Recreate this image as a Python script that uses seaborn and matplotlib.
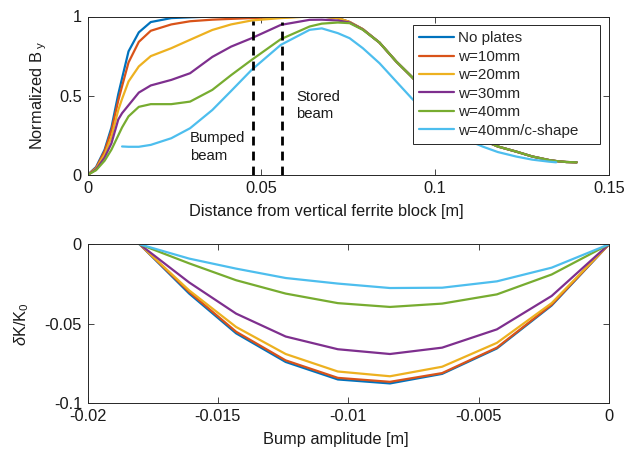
import numpy as np
import pandas as pd
import matplotlib
matplotlib.use("Agg")
import matplotlib.pyplot as plt
import seaborn as sns

# ---------------- data ----------------
series_names = ["No plates", "w=10mm", "w=20mm", "w=30mm", "w=40mm", "w=40mm/c-shape"]
colors = ["#0072BD", "#D95319", "#EDB120", "#7E2F8E", "#77AC30", "#4DBEEE"]

top_x = [0, 0.00246, 0.00492, 0.00689, 0.00885, 0.00994, 0.0118, 0.01476, 0.0182, 0.0241,
         0.0295, 0.0359, 0.0413, 0.0472, 0.0556, 0.0639, 0.0674, 0.0720, 0.0754, 0.0792,
         0.0840, 0.0888, 0.0932, 0.0984, 0.1033, 0.1082, 0.1137, 0.1180, 0.1234, 0.1279,
         0.1328, 0.1348, 0.1377, 0.1407]
nan = np.nan
tail = [0.835, 0.716, 0.621, 0.50, 0.39, 0.30, 0.22, 0.18, 0.147, 0.117, 0.094, 0.088, 0.082, 0.08]
by_none = [0, 0.05, 0.16, 0.30, 0.51, 0.61, 0.78, 0.90, 0.965, 0.99,
           0.995, 1.0, 1.0, 1.0, 1.0, 1.0, 1.0, 0.99, 0.965, 0.92] + tail
by_w10 = [0, 0.045, 0.15, 0.28, 0.47, 0.56, 0.71, 0.84, 0.91, 0.95,
          0.97, 0.98, 0.985, 0.99, 0.995, 1.0, 1.0, 0.99, 0.965, 0.92] + tail
by_w20 = [0, 0.04, 0.13, 0.24, 0.41, 0.48, 0.59, 0.685, 0.75, 0.80,
          0.853, 0.915, 0.95, 0.975, 0.99, 1.0, 1.0, 0.99, 0.965, 0.92] + tail
by_w30 = [0, 0.035, 0.11, 0.20, 0.35, 0.39, 0.44, 0.52, 0.565, 0.60,
          0.642, 0.745, 0.81, 0.863, 0.947, 0.979, 0.98, 0.975, 0.962, 0.918] + tail
by_w40 = [0, 0.03, 0.09, 0.16, 0.25, 0.30, 0.37, 0.43, 0.447, 0.447,
          0.463, 0.537, 0.63, 0.726, 0.857, 0.937, 0.955, 0.962, 0.958, 0.916] + tail
by_c = [nan, nan, nan, nan, nan, 0.18, 0.178, 0.178, 0.19, 0.232,
        0.295, 0.41, 0.53, 0.663, 0.821, 0.916, 0.925, 0.895, 0.863, 0.80,
        0.705, 0.59, 0.485, 0.37, 0.29, 0.23, 0.179, 0.145, 0.116, 0.097,
        0.084, 0.08, nan, nan]
top_series = [by_none, by_w10, by_w20, by_w30, by_w40, by_c]

bump_x = [-0.018, -0.0161, -0.0143, -0.0124, -0.0104, -0.0084, -0.0064, -0.0043, -0.0022, 0]
dk_none = [0, -0.031, -0.056, -0.074, -0.085, -0.0875, -0.0815, -0.0655, -0.0385, 0]
dk_w10 = [0, -0.030, -0.055, -0.073, -0.084, -0.0865, -0.081, -0.065, -0.038, 0]
dk_w20 = [0, -0.029, -0.052, -0.069, -0.080, -0.083, -0.077, -0.062, -0.037, 0]
dk_w30 = [0, -0.024, -0.0436, -0.058, -0.066, -0.069, -0.065, -0.0535, -0.0325, 0]
dk_w40 = [0, -0.012, -0.0226, -0.031, -0.037, -0.0394, -0.0373, -0.0315, -0.019, 0]
dk_c = [0, -0.009, -0.0153, -0.0212, -0.0247, -0.0275, -0.0273, -0.0233, -0.0147, 0]
bottom_series = [dk_none, dk_w10, dk_w20, dk_w30, dk_w40, dk_c]

bumped_x = 0.0477
stored_x = 0.0559

top_xticks = [0, 0.05, 0.1, 0.15]
top_xticklabels = ["0", "0.05", "0.1", "0.15"]
top_yticks = [0, 0.5, 1]
top_yticklabels = ["0", "0.5", "1"]
bot_xticks = [-0.02, -0.015, -0.01, -0.005, 0]
bot_xticklabels = ["-0.02", "-0.015", "-0.01", "-0.005", "0"]
bot_yticks = [-0.1, -0.05, 0]
bot_yticklabels = ["-0.1", "-0.05", "0"]

# ---------------- build frames ----------------
top_df = pd.concat([pd.DataFrame({"x": top_x, "y": ys, "case": name})
                    for name, ys in zip(series_names, top_series)], ignore_index=True)
bot_df = pd.concat([pd.DataFrame({"x": bump_x, "y": ys, "case": name})
                    for name, ys in zip(series_names, bottom_series)], ignore_index=True)

sns.set_theme(style="ticks")
plt.rcParams["font.family"] = ["Liberation Sans", "DejaVu Sans"]
plt.rcParams["mathtext.fontset"] = "custom"
plt.rcParams["mathtext.rm"] = "Liberation Sans"
plt.rcParams["mathtext.it"] = "Liberation Sans:italic"
FS_TICK = 11.8
FS_LABEL = 11.8
FS_LEG = 11
FS_TXT = 10.7
TXT = "#1a1a1a"

W, H = 636, 449
L, R = 87.5, 609
fig = plt.figure(figsize=(W/100, H/100), dpi=100)
ax1 = fig.add_axes([L/W, 1-175/H, (R-L)/W, 158.5/H])
ax2 = fig.add_axes([L/W, 1-403.3/H, (R-L)/W, 159/H])

palette = dict(zip(series_names, colors))
sns.lineplot(data=top_df, x="x", y="y", hue="case", hue_order=series_names,
             palette=palette, linewidth=1.6, ax=ax1, legend=False, sort=False,
             estimator=None)
sns.lineplot(data=bot_df, x="x", y="y", hue="case", hue_order=series_names,
             palette=palette, linewidth=1.6, ax=ax2, legend=False, sort=False,
             estimator=None)

for xv, ytop in ((bumped_x, 0.97), (stored_x, 0.965)):
    ax1.plot([xv, xv], [0, ytop], color="black", linestyle=(0, (3.2, 2.2)), linewidth=2)

ax1.text(0.0295, 0.176, "Bumped\nbeam", fontsize=FS_TXT, va="center", ha="left",
         linespacing=1.3, color=TXT)
ax1.text(0.0600, 0.44, "Stored\nbeam", fontsize=FS_TXT, va="center", ha="left",
         linespacing=1.3, color=TXT)

ax1.set_xlim(0, 0.15)
ax1.set_ylim(0, 1)
ax1.set_xticks(top_xticks)
ax1.set_xticklabels(top_xticklabels)
ax1.set_yticks(top_yticks)
ax1.set_yticklabels(top_yticklabels)
ax1.set_xlabel("Distance from vertical ferrite block [m]", fontsize=FS_LABEL, labelpad=6)
ax1.xaxis.label.set_x((326 - L) / (R - L))
ax1.set_ylabel(r"Normalized B$_{\ \mathregular{y}}$", fontsize=FS_LABEL, labelpad=7)

ax2.set_xlim(-0.02, 0)
ax2.set_ylim(-0.1, 0)
ax2.set_xticks(bot_xticks)
ax2.set_xticklabels(bot_xticklabels)
ax2.set_yticks(bot_yticks)
ax2.set_yticklabels(bot_yticklabels)
ax2.set_xlabel("Bump amplitude [m]", fontsize=FS_LABEL, labelpad=6)
ax2.xaxis.label.set_x((336 - L) / (R - L))
ax2.set_ylabel(r"$\mathit{\delta}$K/K$_{\mathregular{0}}$", fontsize=FS_LABEL, labelpad=10)

for ax in (ax1, ax2):
    ax.tick_params(direction="in", length=4, width=0.6, top=True, right=True,
                   labelsize=FS_TICK, color="#262626", labelcolor=TXT, pad=4)
    for sp in ax.spines.values():
        sp.set_visible(True)
        sp.set_linewidth(0.7)
        sp.set_color("#262626")
    ax.xaxis.label.set_color(TXT)
    ax.yaxis.label.set_color(TXT)

handles = [plt.Line2D([], [], color=c, linewidth=1.6) for c in colors]
leg_x0 = (412.7 - L) / (R - L)
leg_w = (600 - 412.7) / (R - L)
leg_top = (175 - 25) / 158.5
leg = ax1.legend(handles, series_names, loc="upper left", mode="expand",
                 bbox_to_anchor=(leg_x0, 0.0, leg_w, leg_top), fontsize=FS_LEG,
                 frameon=True, fancybox=False, edgecolor="#262626", framealpha=1,
                 handlelength=2.3, handletextpad=0.25, labelspacing=0.29,
                 borderpad=0.42, borderaxespad=0)
leg.get_frame().set_linewidth(0.7)

fig.savefig("out.png", dpi=100)
